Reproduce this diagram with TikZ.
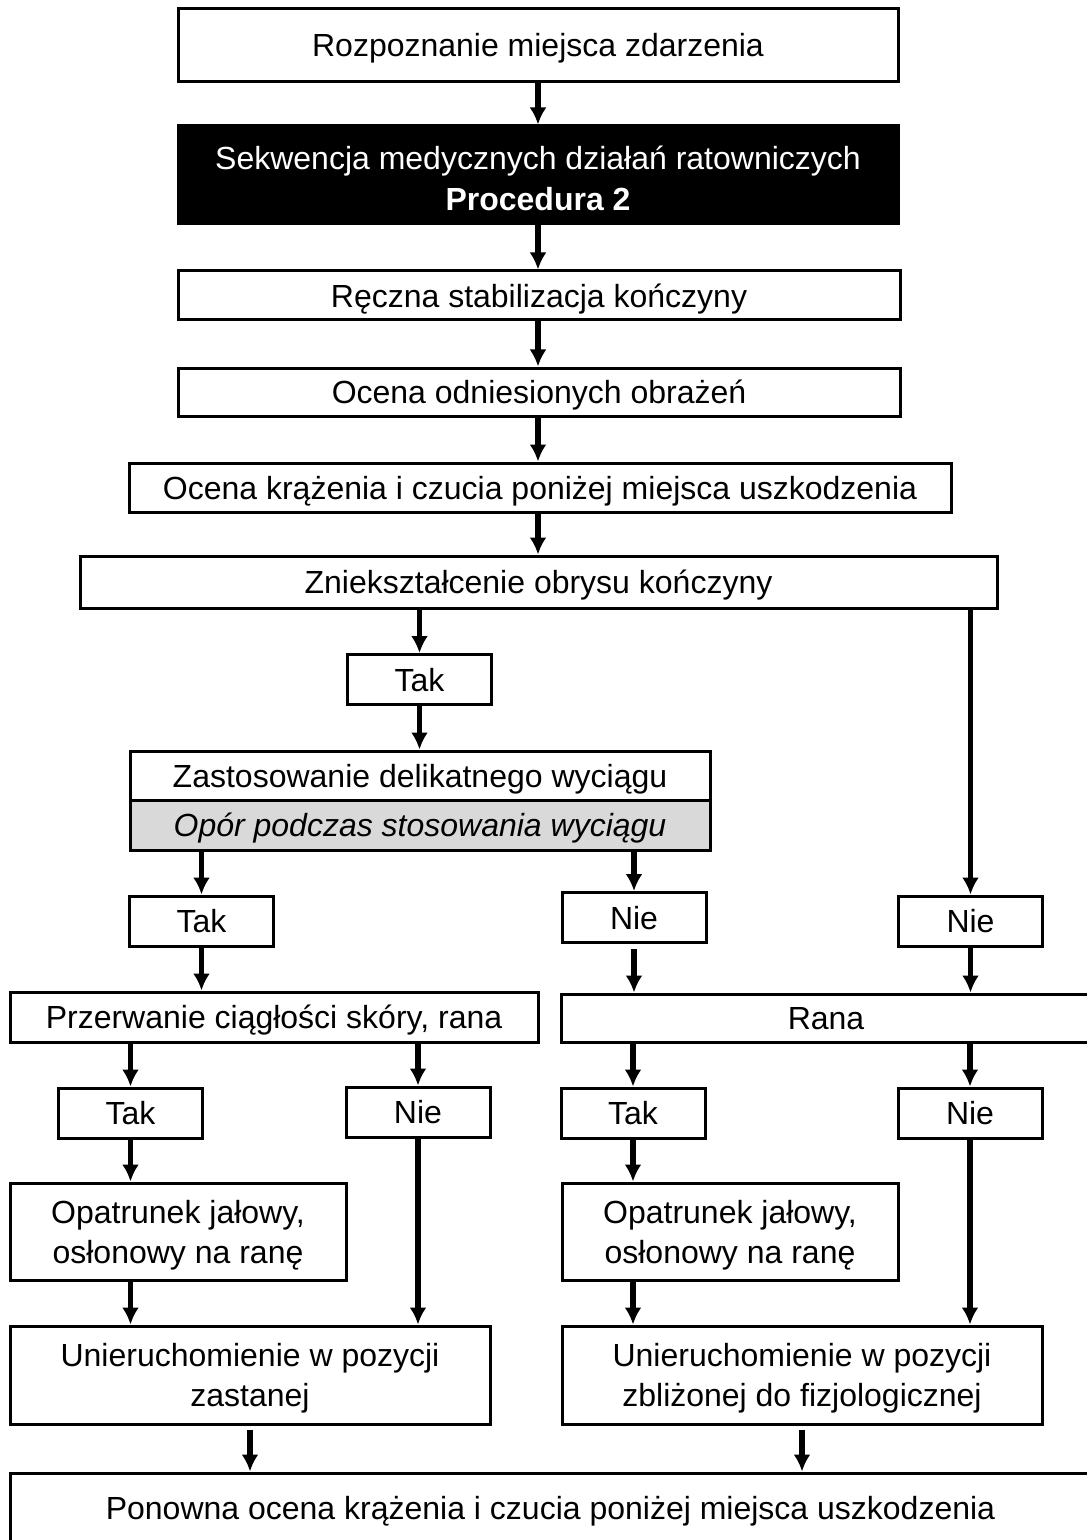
\documentclass[tikz,border=0pt]{standalone}
\usepackage{fontspec}
\setmainfont{Liberation Sans}
\usetikzlibrary{arrows.meta}
\tikzstyle{chart}=[
  x=0.5pt,y=-0.5pt,font=\fontsize{16}{20}\selectfont,
  >={Latex[length=8.5pt,width=8.5pt]}
]
\tikzstyle{twoline}=[
  draw,line width=1.5pt,fill=white,inner sep=0pt,align=center,text depth=0pt
]
\tikzstyle{box}=[
  twoline,text height=11.5pt
]
\tikzstyle{darkbox}=[
  twoline,fill=black,text=white,text height=36pt
]
\tikzstyle{greybox}=[
  box,fill=black!15,font=\fontsize{16}{20}\selectfont\itshape
]
\tikzstyle{answer}=[
  box,minimum width=72pt,minimum height=25pt
]
\tikzstyle{flow}=[
  ->,line width=2.7pt
]

\begin{document}
\begin{tikzpicture}[chart]
    \useasboundingbox (0,0) rectangle (1086,1540);
    % main column
    \node (roz) at (538,45.5) [box,minimum width=360pt,minimum height=36.5pt] {Rozpoznanie miejsca zdarzenia};
    \node (seq) at (538,175) [darkbox,minimum width=360pt,minimum height=49pt] {Sekwencja medycznych działań ratowniczych\\[0.5pt]\textbf{Procedura 2}};
    \node (recz) at (539,295.5) [box,minimum width=361pt,minimum height=24.5pt] {Ręczna stabilizacja kończyny};
    \node (ocena) at (539,392) [box,minimum width=361pt,minimum height=24pt] {Ocena odniesionych obrażeń};
    \node (krz) at (540,487.5) [box,minimum width=411pt,minimum height=24.5pt] {Ocena krążenia i czucia poniżej miejsca uszkodzenia};
    \node (znie) at (538.5,582) [box,minimum width=458.5pt,minimum height=26pt] {Zniekształcenie obrysu kończyny};
    % traction branch
    \node (tak1) at (419.5,679.5) [answer] {Tak};
    \node (zast) at (420,775.5) [box,minimum width=290pt,minimum height=24.5pt] {Zastosowanie delikatnego wyciągu};
    \node (opor) at (420,825) [greybox,minimum width=290pt,minimum height=25pt] {Opór podczas stosowania wyciągu};
    \node (tak2) at (201.5,921) [answer] {Tak};
    \node (nie1) at (634,917.5) [answer] {Nie};
    \node (nie2) at (970.5,921) [answer] {Nie};
    % wound checks
    \node (przer) at (274,1017) [box,minimum width=264pt,minimum height=25pt] {Przerwanie ciągłości skóry, rana};
    \node (rana) at (826,1018) [box,minimum width=265pt,minimum height=24pt] {Rana};
    \node (tak3) at (130.5,1113) [answer] {Tak};
    \node (nie3) at (418,1112) [answer] {Nie};
    \node (tak4) at (633,1113) [answer] {Tak};
    \node (nie4) at (970,1113) [answer] {Nie};
    \node (opat1) at (178,1231.5) [twoline,minimum width=168pt,minimum height=48.5pt] {Opatrunek jałowy,\\osłonowy na ranę};
    \node (opat2) at (730,1231.5) [twoline,minimum width=168pt,minimum height=48.5pt] {Opatrunek jałowy,\\osłonowy na ranę};
    \node (unier1) at (250,1375) [twoline,minimum width=240pt,minimum height=49pt] {Unieruchomienie w pozycji\\zastanej};
    \node (unier2) at (802,1375) [twoline,minimum width=240pt,minimum height=49pt] {Unieruchomienie w pozycji\\zbliżonej do fizjologicznej};
    \node (pon) at (550.5,1508) [box,minimum width=540.5pt,minimum height=35pt] {Ponowna ocena krążenia i czucia poniżej miejsca uszkodzenia};
    % connectors
    \draw [flow] (roz) -- (roz |- seq.north);
    \draw [flow] (seq) -- (seq |- recz.north);
    \draw [flow] (recz.south -| seq) -- (seq |- ocena.north);
    \draw [flow] (ocena.south -| seq) -- (seq |- krz.north);
    \draw [flow] (krz.south -| seq) -- (seq |- znie.north);
    \draw [flow] (znie.south -| tak1) -- (tak1);
    \draw [flow] (znie.south -| nie2) -- (nie2);
    \draw [flow] (tak1) -- (tak1 |- zast.north);
    \draw [flow] (opor.south -| tak2) -- (tak2);
    \draw [flow] (opor.south -| nie1) -- (nie1);
    \draw [flow] (tak2) -- (tak2 |- przer.north);
    \draw [flow, shorten <=2.5pt] (nie1) -- (nie1 |- rana.north);
    \draw [flow] (nie2) -- (nie2 |- rana.north);
    \draw [flow] (przer.south -| tak3) -- (tak3);
    \draw [flow] (przer.south -| nie3) -- (nie3);
    \draw [flow] (rana.south -| tak4) -- (tak4);
    \draw [flow] (rana.south -| nie4) -- (nie4);
    \draw [flow] (tak3) -- (tak3 |- opat1.north);
    \draw [flow] (tak4) -- (tak4 |- opat2.north);
    \draw [flow] (opat1.south -| tak3) -- (tak3 |- unier1.north);
    \draw [flow] (opat2.south -| tak4) -- (tak4 |- unier2.north);
    \draw [flow] (nie3) -- (nie3 |- unier1.north);
    \draw [flow] (nie4) -- (nie4 |- unier2.north);
    \draw [flow, shorten <=2pt] (unier1) -- (unier1 |- pon.north);
    \draw [flow, shorten <=2pt] (unier2) -- (unier2 |- pon.north);
\end{tikzpicture}
\end{document}
